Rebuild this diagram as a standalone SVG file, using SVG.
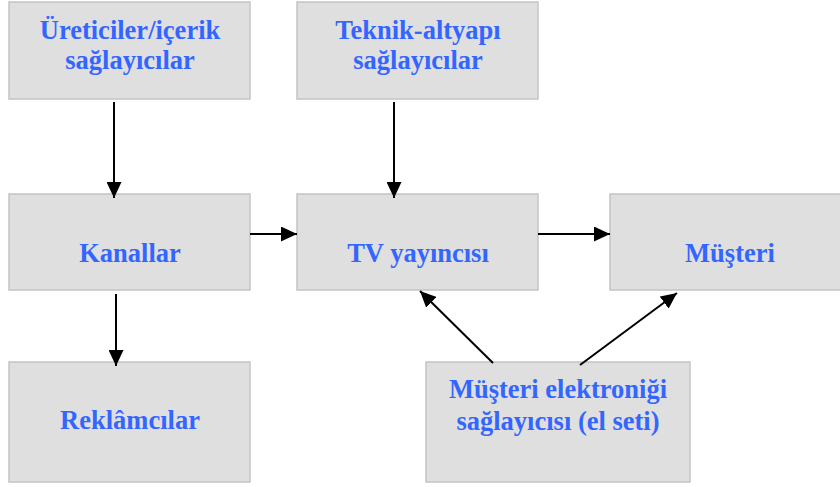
<svg xmlns="http://www.w3.org/2000/svg" width="840" height="487" viewBox="0 0 840 487">
<style>
.box{fill:#dfdfdf;stroke:#c4c4c4;stroke-width:1.5}
.t{font-family:"Liberation Serif","Times New Roman",serif;font-weight:bold;font-size:26.5px;fill:#3366ff;text-anchor:middle}
.c{stroke:#000;stroke-width:2;fill:none;marker-end:url(#ah)}
</style>
<defs>
<marker id="ah" viewBox="0 0 16 15" refX="16" refY="7.5" markerWidth="16" markerHeight="15" markerUnits="userSpaceOnUse" orient="auto">
<path d="M0,0 L16,7.5 L0,15 Z" fill="#000"/>
</marker>
</defs>
<rect width="840" height="487" fill="#fff"/>
<g id="uretici"><rect class="box" x="9" y="2" width="241" height="97"/><text class="t" x="130" y="39">Üreticiler/içerik</text><text class="t" x="130" y="69">sağlayıcılar</text></g>
<g id="teknik"><rect class="box" x="297" y="2" width="241" height="97"/><text class="t" x="418" y="39">Teknik-altyapı</text><text class="t" x="418" y="69">sağlayıcılar</text></g>
<g id="kanallar"><rect class="box" x="9" y="194" width="241" height="96"/><text class="t" x="130" y="262">Kanallar</text></g>
<g id="tv"><rect class="box" x="297" y="194" width="241" height="96"/><text class="t" x="418" y="262">TV yayıncısı</text></g>
<g id="musteri"><rect class="box" x="610" y="194" width="240" height="96"/><text class="t" x="730" y="262">Müşteri</text></g>
<g id="reklamcilar"><rect class="box" x="9" y="362" width="241" height="120"/><text class="t" x="130" y="429">Reklâmcılar</text></g>
<g id="elektronik"><rect class="box" x="426" y="362" width="264" height="120"/><text class="t" x="558" y="398">Müşteri elektroniği</text><text class="t" x="558" y="430">sağlayıcısı (el seti)</text></g>
<g id="connectors">
<line class="c" x1="114" y1="102" x2="114" y2="198"/>
<line class="c" x1="394" y1="102" x2="394" y2="198"/>
<line class="c" x1="116" y1="294" x2="116" y2="366"/>
<line class="c" x1="250" y1="234" x2="297" y2="234"/>
<line class="c" x1="538" y1="234" x2="610" y2="234"/>
<line class="c" x1="493" y1="363" x2="420" y2="291"/>
<line class="c" x1="580" y1="365" x2="677" y2="293"/>
</g>
</svg>
